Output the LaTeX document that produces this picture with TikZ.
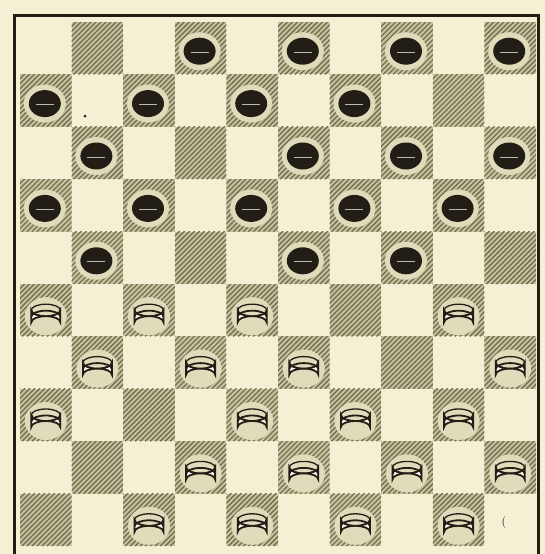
\documentclass[tikz,border=0pt]{standalone}
\definecolor{paper}{RGB}{243,240,212}
\definecolor{sq}{RGB}{198,193,156}
\definecolor{hatchc}{RGB}{112,107,78}
\definecolor{ink}{RGB}{34,30,22}
\definecolor{piecew}{RGB}{252,251,240}
\tikzset{
  frameline/.style={draw=ink,line width=3.2pt},
  hatchline/.style={draw=hatchc,line width=1.2pt},
  halo/.style={fill=sq!45!paper},
  blackman/.pic={
    \fill[halo] (0,0) ellipse [x radius=21,y radius=19];
    \fill[ink] (0,0) ellipse [x radius=16,y radius=13.5];
    \draw[gray!55,line width=1pt] (-9,1) -- (9,1);
  },
  whiteman/.pic={
    \fill[halo] (0,0) ellipse [x radius=21,y radius=19];
    \path[fill=piecew,draw=ink,line width=1.8pt] (-14.5,-6) -- (-14.5,6) arc[start angle=180,end angle=360,x radius=14.5,y radius=6] -- (14.5,-6) arc[start angle=0,end angle=180,x radius=14.5,y radius=6] -- cycle;
    \draw[ink,line width=1.3pt] (0,-6) ellipse [x radius=14.5,y radius=6];
    \draw[ink,line width=1.8pt] (-14.5,0.5) arc[start angle=180,end angle=360,x radius=14.5,y radius=6];
  }
}
\begin{document}
\begin{tikzpicture}[x=1pt,y=-1pt]
\useasboundingbox (0,0) rectangle (545,554);
\fill[paper] (0,0) rectangle (545,554);
\foreach \r in {1,...,10}{
  \foreach \c in {1,...,10}{
    \pgfmathtruncatemacro\odd{mod(\r+\c,2)}
    \ifnum\odd=1
      \pgfmathsetmacro\xo{20+(\c-1)*51.6}
      \pgfmathsetmacro\yo{22+(\r-1)*52.4}
      \begin{scope}
        \clip (\xo,\yo) rectangle ++(51.6,52.4);
        \fill[sq] (\xo,\yo) rectangle ++(51.6,52.4);
        \foreach \k in {0,...,21}{
          \draw[hatchline] ({\xo+\k*5-53},{\yo+52.4}) -- ++(53,-53);
        }
      \end{scope}
    \fi
  }
}
\draw[frameline] (14.5,554) -- (14.5,15.5) -- (538.5,15.5) -- (538.5,554);
\foreach \r/\c in {1/4,1/6,1/8,1/10,2/1,2/3,2/5,2/7,3/2,3/6,3/8,3/10,4/1,4/3,4/5,4/7,4/9,5/2,5/6,5/8}{
  \begin{scope}
    \clip ({20+(\c-1)*51.6},{22+(\r-1)*52.4}) rectangle ++(51.6,52.4);
    \pic at ({20+(\c-0.5)*51.6-1},{22+(\r-0.5)*52.4+3}) {blackman};
  \end{scope}
}
\foreach \r/\c in {6/1,6/3,6/5,6/9,7/2,7/4,7/6,7/10,8/1,8/5,8/7,8/9,9/4,9/6,9/8,9/10,10/3,10/5,10/7,10/9}{
  \begin{scope}
    \clip ({20+(\c-1)*51.6},{22+(\r-1)*52.4}) rectangle ++(51.6,52.4);
    \pic at ({20+(\c-0.5)*51.6},{22+(\r-0.5)*52.4+6}) {whiteman};
  \end{scope}
}
\fill[ink] (85,116) circle (1.5);
\node[text=ink,font=\large] (mark) at (504,522) {(};
\end{tikzpicture}
\end{document}
